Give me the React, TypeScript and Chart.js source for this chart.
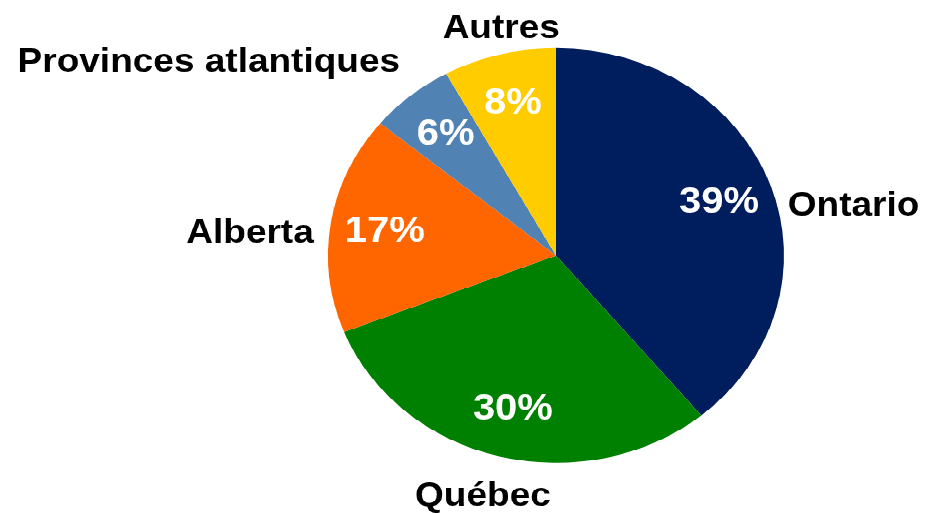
import React, { useEffect, useRef } from "react";
import { Chart, registerables } from "chart.js";

Chart.register(...registerables);

const categories = ["Ontario", "Québec", "Alberta", "Provinces atlantiques", "Autres"];
const shares = [39, 30, 17, 6, 8];
const percentLabels = ["39%", "30%", "17%", "6%", "8%"];
const sliceColors = ["#001E5E", "#008000", "#FF6600", "#5083B4", "#FFCC00"];

// label nudges (text placement only), in canvas units
const labelNudges = [
  [8, 33],
  [4, 9],
  [-4, 15],
  [-71, -12],
  [20, 3],
];

const W = 925;
const SY = 0.91;
const H = Math.round(513 / SY);

const labelPlugin = {
  id: "pieLabels",
  afterDatasetsDraw(chart: any) {
    const ctx = chart.ctx;
    const meta = chart.getDatasetMeta(0);
    ctx.save();
    meta.data.forEach((arc: any, i: number) => {
      const { x, y, startAngle, endAngle, outerRadius } = arc.getProps(
        ["x", "y", "startAngle", "endAngle", "outerRadius"],
        true
      );
      const mid = (startAngle + endAngle) / 2;
      const c = Math.cos(mid);
      const s = Math.sin(mid);
      // inner percent
      ctx.font = "bold 40px 'Liberation Sans', Arial, sans-serif";
      ctx.fillStyle = "#FFFFFF";
      ctx.textAlign = "center";
      ctx.textBaseline = "middle";
      const ri = outerRadius * 0.76;
      ctx.fillText(percentLabels[i], x + c * ri, y + s * ri + 1);
      // outer category
      ctx.font = "bold 37px 'Liberation Sans', Arial, sans-serif";
      ctx.fillStyle = "#000000";
      const w = ctx.measureText(categories[i]).width;
      const h = 40;
      const ro = outerRadius + 14;
      const cx = x + c * ro + c * (w / 2) + labelNudges[i][0];
      const cy = y + s * ro + s * (h / 2) + labelNudges[i][1];
      ctx.fillText(categories[i], cx, cy + 2);
    });
    ctx.restore();
  },
};

export default function App() {
  const ref = useRef<HTMLCanvasElement>(null);
  useEffect(() => {
    document.body.style.margin = "0";
    const cx = 556;
    const cy = 255.5 / SY;
    const r = 228;
    const chart = new Chart(ref.current!, {
      type: "pie",
      data: {
        labels: categories,
        datasets: [
          {
            data: shares,
            backgroundColor: sliceColors,
            borderWidth: 0,
          },
        ],
      },
      options: {
        responsive: false,
        animation: false,
        layout: {
          padding: {
            left: cx - r,
            right: W - (cx + r),
            top: cy - r,
            bottom: H - (cy + r),
          },
        },
        plugins: {
          legend: { display: false },
          tooltip: { enabled: false },
        },
      },
      plugins: [labelPlugin],
    });
    return () => chart.destroy();
  }, []);
  return (
    <div
      style={{
        position: "fixed",
        left: 0,
        top: 0,
        width: W,
        height: H,
        transform: `scaleY(${SY})`,
        transformOrigin: "top left",
        background: "#fff",
      }}
    >
      <canvas ref={ref} width={W} height={H} />
    </div>
  );
}
